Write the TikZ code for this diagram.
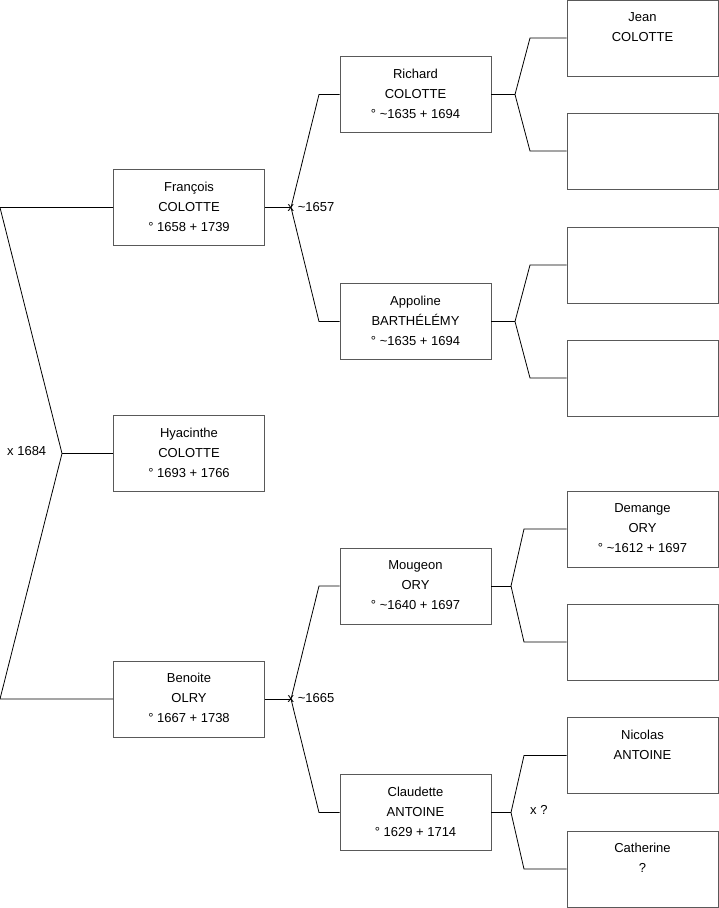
\documentclass[tikz,border=0pt]{standalone}
\usepackage{fontspec}
\setmainfont{Liberation Sans}
\begin{document}
\begin{tikzpicture}[x=1pt,y=-1pt,
  box/.style={draw=black!65, line width=0.9pt, minimum width=151pt, minimum height=76pt, inner sep=0pt, fill=white},
  txt/.style={font=\fontsize{13}{20}\selectfont, align=center, anchor=north, inner sep=0pt},
  lnk/.style={draw=black, line width=0.8pt},
  marktxt/.style={font=\fontsize{13}{14}\selectfont, anchor=west, inner sep=0pt}]
\useasboundingbox (0,0) rectangle (719,908);
% generation 3 (right column)
\node[box] (jean) at (642.5,38) {};
\node[box] (e2) at (642.5,151) {};
\node[box] (e3) at (642.5,265) {};
\node[box] (e4) at (642.5,378) {};
\node[box] (dem) at (642.5,529) {};
\node[box] (e6) at (642.5,642) {};
\node[box] (nic) at (642.5,755.5) {};
\node[box] (cat) at (642.5,869) {};
% generation 2
\node[box] (ric) at (415.5,94.5) {};
\node[box] (app) at (415.5,321.5) {};
\node[box] (mou) at (415.5,586) {};
\node[box] (cla) at (415.5,812.5) {};
% generation 1
\node[box] (fra) at (189,207.5) {};
\node[box] (hya) at (189,453.5) {};
\node[box] (ben) at (189,699) {};
% texts
\node[txt] (tjean) at ([yshift=-12.5pt]jean.north) {Jean\\COLOTTE};
\node[txt] (tdem) at ([yshift=-12.5pt]dem.north) {Demange\\ORY\\° \textasciitilde1612 + 1697};
\node[txt] (tnic) at ([yshift=-12.5pt]nic.north) {Nicolas\\ANTOINE};
\node[txt] (tcat) at ([yshift=-12.5pt]cat.north) {Catherine\\?};
\node[txt] (tric) at ([yshift=-12.5pt]ric.north) {Richard\\COLOTTE\\° \textasciitilde1635 + 1694};
\node[txt] (tapp) at ([yshift=-12.5pt]app.north) {Appoline\\BARTHÉLÉMY\\° \textasciitilde1635 + 1694};
\node[txt] (tmou) at ([yshift=-12.5pt]mou.north) {Mougeon\\ORY\\° \textasciitilde1640 + 1697};
\node[txt] (tcla) at ([yshift=-12.5pt]cla.north) {Claudette\\ANTOINE\\° 1629 + 1714};
\node[txt] (tfra) at ([yshift=-12.5pt]fra.north) {François\\COLOTTE\\° 1658 + 1739};
\node[txt] (thya) at ([yshift=-12.5pt]hya.north) {Hyacinthe\\COLOTTE\\° 1693 + 1766};
\node[txt] (tben) at ([yshift=-12.5pt]ben.north) {Benoite\\OLRY\\° 1667 + 1738};
% left fork
\coordinate (l1) at (0,207.5);
\coordinate (lv) at (62,453.5);
\coordinate (l2) at (0,699);
\draw[lnk] (fra.west) -- (l1) -- (lv) -- (l2) -- (ben.west);
\draw[lnk] (lv) -- (hya.west);
\node[marktxt] (m1684) at (7,451) {x 1684};
% Francois fork
\coordinate (fv) at (291,207.5);
\coordinate (f1) at (319,94.5);
\coordinate (f2) at (319,321.5);
\draw[lnk] (fra.east) -- (fv);
\draw[lnk] (ric.west) -- (f1) -- (fv) -- (f2) -- (app.west);
\node[marktxt] (m1657) at (287.5,207) {x \textasciitilde1657};
% Benoite fork
\coordinate (bv) at (291,699);
\coordinate (b1) at (319,586);
\coordinate (b2) at (319,812.5);
\draw[lnk] (ben.east) -- (bv);
\draw[lnk] (mou.west) -- (b1) -- (bv) -- (b2) -- (cla.west);
\node[marktxt] (m1665) at (287.5,698) {x \textasciitilde1665};
% Richard fork
\coordinate (rv) at (515,94.5);
\coordinate (r1) at (530,38);
\coordinate (r2) at (530,151);
\draw[lnk] (ric.east) -- (rv);
\draw[lnk] (jean.west) -- (r1) -- (rv) -- (r2) -- (e2.west);
% Appoline fork
\coordinate (av) at (515,321.5);
\coordinate (a1) at (530,265);
\coordinate (a2) at (530,378);
\draw[lnk] (app.east) -- (av);
\draw[lnk] (e3.west) -- (a1) -- (av) -- (a2) -- (e4.west);
% Mougeon fork
\coordinate (mv) at (511,586);
\coordinate (m1) at (524,529);
\coordinate (m2) at (524,642);
\draw[lnk] (mou.east) -- (mv);
\draw[lnk] (dem.west) -- (m1) -- (mv) -- (m2) -- (e6.west);
% Claudette fork
\coordinate (cv) at (511,812.5);
\coordinate (c1) at (524,755.5);
\coordinate (c2) at (524,869);
\draw[lnk] (cla.east) -- (cv);
\draw[lnk] (nic.west) -- (c1) -- (cv) -- (c2) -- (cat.west);
\node[marktxt] (mq) at (530,810) {x ?};
\end{tikzpicture}
\end{document}
